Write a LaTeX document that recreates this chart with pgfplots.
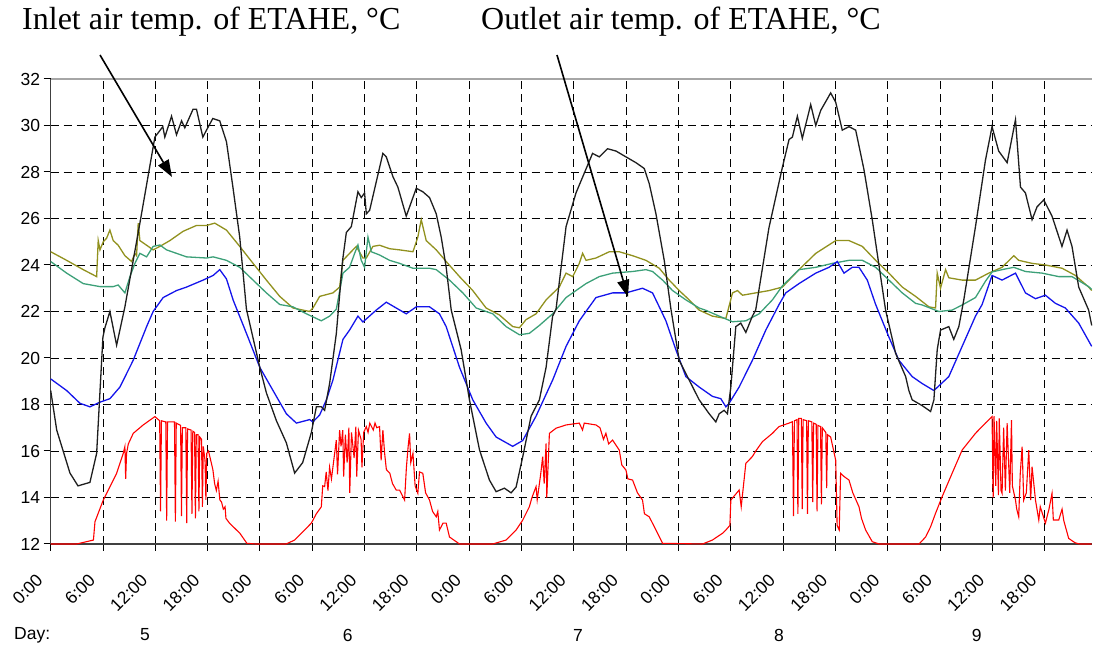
\documentclass[border=0pt]{standalone}
\usepackage{pgfplots}
\pgfplotsset{compat=1.18}
\usepackage{fontspec}
\setmainfont{Liberation Sans}
\newfontfamily\timesfont{Liberation Serif}
\usetikzlibrary{arrows.meta}
\definecolor{cblack}{RGB}{30,30,30}
\definecolor{colive}{RGB}{145,145,30}
\definecolor{cteal}{RGB}{60,160,120}
\definecolor{cblue}{RGB}{20,20,235}
\definecolor{cred}{RGB}{255,0,0}
\begin{document}
\begin{tikzpicture}
\useasboundingbox (0,0) rectangle (1093pt,647pt);
\begin{axis}[
  at={(50.7pt,103pt)}, anchor=south west,
  scale only axis, width=1041pt, height=465pt,
  xmin=0, xmax=119.4, ymin=12, ymax=32,
  axis x line*=bottom, axis y line*=left,
  axis line style={draw=black!75, line width=1.3pt},
  xtick={0,6,...,114},
  xticklabels={0:00,6:00,12:00,18:00,0:00,6:00,12:00,18:00,0:00,6:00,12:00,18:00,0:00,6:00,12:00,18:00,0:00,6:00,12:00,18:00},
  ytick={12,14,...,30},
  extra y ticks={32}, extra y tick labels={32},
  extra y tick style={major grid style={solid, draw=black!35, line width=1.3pt}},
  grid=major,
  major grid style={dash pattern=on 8pt off 5pt, draw=black, line width=0.9pt},
  tick align=outside, major tick length=7pt,
  tick style={draw=black, line width=1pt},
  /pgf/number format/assume math mode=true,
  tick label style={font=\fontsize{17.5}{20}\selectfont},
  xticklabel style={rotate=45, anchor=east, xshift=-23pt, yshift=-10.8pt},
  clip=false,
  every axis plot/.append style={line width=1.3pt},
]
% red (solar radiation, scaled)
\addplot[cred, line width=1.1pt] coordinates {
(0,12)(2.98,12)(4.9,12.17)(5.08,12.96)(6.04,13.9)(7.56,15.04)(7.94,15.47)(8.32,15.9)(8.51,16.19)(8.6,14.8)(8.7,15.9)(8.9,16.3)(9.47,16.76)(10.61,17.12)(11.95,17.48)
(12.5,17.3)(12.6,13.4)(12.7,17.3)(13.2,17.25)(13.3,13.0)(13.4,17.25)(14.2,17.25)(14.3,12.96)(14.4,17.2)(14.9,17.1)(15.0,13.2)(15.1,17.0)(15.5,17.0)(15.6,12.9)(15.7,16.95)
(16.1,16.9)(16.2,13.3)(16.3,16.85)(16.5,16.8)(16.6,13.1)(16.7,16.7)(16.9,16.7)(17.0,13.4)(17.1,16.6)(17.3,16.5)(17.4,13.6)(17.5,16.2)(17.7,15.6)(17.8,13.9)(17.9,15.9)(18.1,16.0)
(18.25,15.76)(18.6,15.2)(18.8,14.6)(19.0,14.3)(19.2,14.7)(19.4,13.9)(19.6,13.8)(19.8,13.5)(20.0,13.6)(20.1,13.1)(20.5,12.9)(21.7,12.46)(22.5,12.03)(23.5,12)
(27.0,12)(27.98,12.17)(29.12,12.6)(29.9,12.9)(30.47,13.3)(31.04,13.6)(31.2,14.5)(31.42,14.47)(31.6,15.1)(31.8,14.3)(31.99,15.3)(32.2,14.8)(32.76,16.47)(32.9,15.0)(33.14,16.9)
(33.3,16.2)(33.5,16.9)(33.6,14.9)(33.8,16.7)(34.0,15.5)(34.2,17.0)(34.3,14.2)(34.5,16.8)(34.8,15.7)(35.0,17.05)(35.1,14.9)(35.3,16.9)(35.6,16.5)(35.7,15.3)(35.9,16.8)
(36.2,17.05)(36.4,16.8)(36.6,17.2)(37.0,16.9)(37.2,17.2)(37.4,17.0)(37.72,17.05)(37.9,15.6)(38.1,16.9)(38.3,15.9)(38.5,15.2)(38.9,15.04)(39.2,14.6)(39.63,14.32)
(40.02,14.32)(40.59,13.89)(40.8,15.3)(41.0,16.2)(41.16,16.76)(41.3,15.5)(41.55,15.9)(41.8,14.5)(42.11,14.18)(42.3,15.1)(42.68,15.04)(43.0,14.2)(43.45,13.89)(43.8,13.4)
(44.22,13.17)(44.4,13.4)(44.59,12.6)(45.0,12.9)(45.36,12.9)(45.74,12.3)(46.89,12)
(50.7,12)(52.23,12.17)(53.38,12.6)(54.14,13.03)(54.5,13.3)(54.9,13.6)(55.2,14.0)(55.67,14.47)(55.8,13.9)(56.2,15.0)(56.43,15.76)(56.6,14.6)(56.82,16.33)(56.9,14.0)
(57.2,16.76)(57.96,16.98)(59.11,17.12)(60.63,17.2)(61.0,16.9)(61.2,17.2)(62.54,17.12)(63.0,17.0)(63.4,16.5)(63.68,16.76)(64.0,16.3)(64.45,16.47)(65.21,16.04)(65.5,15.4)
(65.98,15.18)(66.2,14.8)(66.74,14.75)(67.3,14.2)(67.88,13.89)(68.1,13.3)(68.65,13.17)(69.42,12.6)(70.18,12.03)(74.77,12)
(75.9,12.17)(77.05,12.46)(77.44,12.6)(77.9,12.8)(78.01,13.89)(78.96,14.32)(79.2,13.6)(79.73,15.47)(80.48,15.76)(80.87,16.0)(81.63,16.4)(82.78,16.76)(83.54,17.05)(84.69,17.2)
(85.07,17.26)(85.2,13.2)(85.3,17.3)(85.6,17.35)(85.7,13.3)(85.8,17.4)(86.1,17.4)(86.2,13.5)(86.3,17.35)(86.7,17.3)(86.8,13.3)(86.9,17.3)(87.3,17.25)(87.4,13.8)(87.5,17.2)
(87.8,17.15)(87.9,13.4)(88.0,17.1)(88.3,17.05)(88.4,13.7)(88.5,17.0)(88.9,16.8)(89.0,14.4)(89.1,16.7)(89.46,16.6)(90.04,15.6)(90.2,12.8)(90.44,12.6)(90.6,15.04)(91.0,14.9)
(91.56,14.75)(92.0,14.2)(92.71,13.6)(93.0,13.1)(93.47,12.6)(94.23,12.1)(95.0,12)
(99.6,12)(100.35,12.3)(100.92,12.74)(101.49,13.32)(102.25,14.04)(103.39,15.04)(104.54,16.04)(106.07,16.76)(107.21,17.2)(107.97,17.48)
(108.1,14.0)(108.2,17.5)(108.4,14.5)(108.5,17.3)(108.7,14.1)(108.8,17.4)(109.0,14.3)(109.12,14.18)(109.3,17.0)(109.5,14.3)(109.7,17.2)(110.0,14.2)(110.2,17.33)(110.3,14.5)
(110.66,13.89)(110.8,13.5)(111.03,13.17)(111.2,15.0)(111.42,16.19)(111.6,13.89)(111.9,14.2)(112.18,16.04)(112.4,13.89)(112.56,15.33)(112.95,13.89)(113.33,13.03)(113.5,13.6)
(114.09,12.9)(114.5,13.5)(114.85,14.18)(115.0,13.03)(115.62,13.03)(116.0,13.5)(116.2,13.0)(116.76,12.24)(117.5,12.05)(118.0,12)(119.4,12)
};
% olive
\addplot[colive] coordinates {
(0,24.57)(1.83,24.2)(3.73,23.8)(5.27,23.5)(5.45,25.05)(5.65,24.65)(6.03,25.0)(6.41,25.15)(6.79,25.5)(7.17,25.05)(7.74,24.85)(8.51,24.4)(9.28,24.15)(9.66,24.5)(9.85,24.4)
(10.04,25.8)(10.23,25.05)(11.0,24.85)(11.75,24.65)(12.52,24.8)(13.67,25.05)(15.19,25.45)(16.72,25.7)(17.87,25.7)(18.82,25.8)(20.16,25.5)(21.68,24.8)(23.21,24.07)
(24.74,23.35)(26.27,22.65)(27.79,22.15)(29.7,22.0)(30.08,22.15)(30.85,22.65)(32.37,22.8)(33.14,23.05)(33.52,24.2)(34.28,24.5)(35.05,24.8)(35.81,24.3)(36.2,24.3)
(36.96,24.8)(37.72,24.85)(38.87,24.7)(40.02,24.65)(41.55,24.57)(42.11,25.2)(42.5,25.95)(43.07,25.05)(44.22,24.65)(45.36,24.15)(46.89,23.5)(48.41,22.9)(49.94,22.15)
(51.47,21.85)(53.0,21.35)(53.76,21.3)(54.52,21.65)(55.67,21.9)(56.82,22.5)(58.33,23.05)(59.11,23.65)(59.87,23.5)(60.63,24.07)(61.01,24.5)(61.4,24.2)(62.54,24.3)
(64.07,24.57)(65.21,24.57)(66.74,24.4)(68.27,24.2)(69.8,23.86)(70.94,23.35)(72.09,22.9)(73.23,22.5)(74.38,22.06)(75.9,21.8)(77.44,21.7)(78.2,22.8)(78.77,22.9)
(79.34,22.7)(80.86,22.8)(82.4,22.9)(83.92,23.05)(85.83,23.8)(87.75,24.5)(90.04,25.05)(91.56,25.05)(93.09,24.8)(94.62,24.2)(96.14,23.65)(97.67,23.05)(99.2,22.65)
(100.73,22.2)(101.49,22.15)(101.68,23.65)(102.06,23.0)(102.64,23.8)(103.01,23.45)(104.54,23.35)(106.07,23.35)(107.59,23.65)(109.12,23.9)(110.46,24.4)(111.03,24.2)
(112.56,24.07)(114.09,24.0)(116.0,23.86)(117.53,23.55)(119.05,23.05)(119.4,22.9)
};
% teal
\addplot[cteal] coordinates {
(0,24.15)(1.83,23.65)(3.73,23.2)(5.65,23.07)(7.17,23.07)(7.74,23.14)(8.51,22.8)(9.09,23.5)(9.66,24.07)(10.23,24.5)(11.0,24.35)(11.75,24.8)(12.52,24.86)(13.29,24.65)
(15.58,24.35)(17.87,24.3)(18.63,24.35)(20.16,24.2)(21.68,23.9)(23.21,23.35)(24.74,22.8)(26.27,22.3)(27.79,22.2)(29.33,21.9)(31.04,21.6)(31.99,21.8)(32.76,22.1)
(33.52,23.65)(34.28,23.9)(34.86,24.5)(35.24,24.86)(35.62,24.2)(36.0,23.9)(36.39,25.2)(36.77,24.57)(37.72,24.43)(38.87,24.2)(40.02,24.07)(41.55,23.86)(43.45,23.86)
(44.22,23.8)(45.74,23.35)(47.27,22.8)(48.8,22.15)(50.7,21.9)(52.23,21.35)(53.76,21.0)(54.9,21.06)(56.05,21.4)(57.57,21.9)(59.11,22.6)(60.25,22.9)(61.4,23.2)
(62.92,23.5)(64.45,23.65)(66.74,23.72)(68.27,23.8)(69.03,23.72)(70.18,23.35)(71.33,22.9)(72.85,22.5)(74.38,22.15)(75.15,22.05)(76.67,21.8)(78.2,21.56)(79.73,21.6)
(81.25,21.9)(82.78,22.5)(83.92,23.1)(85.83,23.8)(87.75,23.9)(89.66,24.07)(91.56,24.2)(93.09,24.2)(94.62,23.9)(96.14,23.35)(97.67,22.8)(99.2,22.35)(99.96,22.28)
(101.87,22.0)(103.39,22.06)(104.54,22.28)(106.07,22.6)(107.21,23.3)(107.97,23.7)(109.12,23.8)(110.46,23.9)(111.8,23.72)(113.71,23.65)(115.62,23.5)(117.14,23.5)
(119.05,23.07)(119.4,22.95)
};
% blue (outlet)
\addplot[cblue] coordinates {
(0,19.1)(1.83,18.6)(3.36,18.05)(4.5,17.9)(5.65,18.1)(6.79,18.25)(7.94,18.75)(9.46,19.9)(11.0,21.35)(11.75,22.0)(12.9,22.6)(14.43,22.9)(15.58,23.05)(17.48,23.35)
(18.63,23.55)(19.39,23.8)(20.16,23.4)(20.92,22.5)(22.45,21.06)(23.98,19.6)(25.5,18.6)(27.03,17.6)(28.18,17.2)(29.7,17.35)(30.08,17.25)(30.85,17.55)(31.62,18.2)
(32.37,19.05)(33.52,20.8)(34.28,21.2)(35.24,21.8)(35.81,21.55)(37.34,22.06)(38.49,22.4)(39.63,22.15)(40.78,21.9)(41.93,22.2)(43.45,22.2)(44.59,21.9)(45.36,21.35)
(46.89,19.6)(48.41,18.2)(49.94,17.2)(51.09,16.6)(52.99,16.2)(54.14,16.45)(55.67,17.5)(57.57,19.05)(59.11,20.5)(60.63,21.6)(62.54,22.6)(64.45,22.8)(65.98,22.8)
(67.88,23.0)(69.03,22.8)(69.8,22.2)(70.56,21.6)(71.71,20.35)(72.85,19.2)(74.38,18.75)(75.9,18.35)(76.86,18.25)(77.44,17.9)(77.81,18.05)(78.96,18.75)(80.48,19.9)
(82.02,21.2)(83.54,22.3)(84.31,22.8)(85.83,23.2)(87.75,23.65)(89.27,23.9)(90.22,24.15)(90.99,23.65)(91.94,23.9)(92.71,23.9)(93.66,23.35)(94.62,22.3)(96.14,20.9)
(97.29,19.9)(98.81,19.2)(99.96,18.9)(101.3,18.6)(103.01,19.2)(104.54,20.5)(106.07,21.8)(106.83,22.3)(107.97,23.55)(109.12,23.35)(110.66,23.65)(111.8,22.8)
(112.95,22.55)(114.09,22.7)(115.24,22.35)(116.38,22.15)(117.91,21.5)(119.4,20.5)
};
% black (inlet)
\addplot[cblack] coordinates {
(0,18.6)(0.69,16.9)(2.21,15.05)(3.13,14.5)(4.5,14.65)(5.27,15.9)(5.99,20.9)(6.22,21.3)(6.79,22.0)(7.56,20.55)(8.51,22.2)(10.23,25.8)(11.95,29.5)(12.86,29.95)(13.09,29.5)
(13.86,30.4)(14.43,29.6)(15.01,30.2)(15.38,29.9)(16.33,30.7)(16.72,30.7)(17.45,29.5)(17.87,29.8)(18.59,30.3)(19.39,30.2)(20.16,29.3)(20.88,27.4)(21.68,25.2)(22.45,22.1)
(23.98,19.6)(24.74,18.5)(25.89,17.3)(27.03,16.35)(27.98,15.05)(28.9,15.5)(29.9,16.8)(30.47,17.9)(31.04,17.9)(31.42,17.75)(31.99,18.9)(32.76,21.05)(33.48,24.2)
(33.91,25.4)(34.48,25.65)(35.24,27.15)(35.62,26.9)(36.0,27.1)(36.2,26.2)(36.58,26.35)(38.1,28.8)(38.49,28.65)(39.25,27.8)(39.82,27.35)(40.78,26.1)(41.93,27.3)
(42.68,27.15)(43.45,26.9)(44.22,26.2)(44.79,25.2)(45.36,23.9)(45.94,22.06)(47.08,20.35)(48.03,18.2)(49.18,16.05)(50.32,14.75)(51.09,14.25)(52.04,14.4)(52.81,14.2)
(53.38,14.45)(54.14,15.75)(55.1,17.5)(56.05,18.2)(56.82,19.6)(57.57,21.8)(57.96,22.1)(59.11,25.65)(60.25,27.1)(62.15,28.8)(62.92,28.65)(63.87,29.0)(64.84,28.9)
(65.98,28.65)(67.13,28.4)(68.08,28.15)(68.65,27.5)(69.42,26.2)(70.37,24.2)(71.14,22.1)(72.09,19.9)(73.23,19.05)(74.38,18.2)(75.53,17.6)(76.29,17.25)(76.67,17.6)
(77.24,17.75)(77.62,17.6)(78.01,18.75)(78.58,21.35)(79.15,21.5)(79.73,21.1)(80.48,21.8)(80.86,22.06)(82.38,25.6)(83.92,28.2)(84.69,29.4)(85.07,29.5)(85.64,30.4)
(86.21,29.45)(87.17,30.9)(87.75,30.0)(88.32,30.65)(89.46,31.4)(90.04,31.0)(90.79,29.8)(91.56,29.95)(92.33,29.8)(93.28,28.1)(94.23,25.95)(95.19,23.5)(95.76,22.06)
(96.91,20.2)(98.06,19.2)(98.43,18.6)(98.81,18.2)(99.96,17.95)(100.92,17.7)(101.3,18.2)(101.68,20.35)(102.06,21.2)(103.01,21.35)(103.58,20.8)(104.16,21.35)(104.73,22.5)
(106.07,25.65)(107.21,28.5)(107.97,29.95)(108.73,28.9)(109.7,28.4)(110.66,30.25)(111.23,27.35)(111.8,27.1)(112.56,25.95)(113.13,26.5)(113.9,26.8)(114.85,26.1)
(115.99,24.8)(116.57,25.5)(117.14,24.8)(117.91,23.05)(119.05,22.06)(119.4,21.4)
};
\end{axis}
% annotations
\node[anchor=west, inner sep=0pt, font=\timesfont\fontsize{32}{35}\selectfont] at (22pt,625pt) {Inlet air temp. of ETAHE, °C};
\node[anchor=west, inner sep=0pt, font=\timesfont\fontsize{32}{35}\selectfont] at (481pt,625pt) {Outlet air temp. of ETAHE, °C};
\draw[line width=1.6pt, -{Triangle[length=17pt,width=12pt]}] (100pt,592pt) -- (172pt,470pt);
\draw[line width=1.6pt, -{Triangle[length=17pt,width=12pt]}] (557pt,592pt) -- (628pt,350pt);
% day row
\begin{scope}[every node/.style={font=\fontsize{17.5}{20}\selectfont, inner sep=0pt}]
\node[anchor=west] at (14pt,12pt) {Day:};
\node at (145pt,12pt) {5};
\node at (347.7pt,12pt) {6};
\node at (578pt,12pt) {7};
\node at (779pt,12pt) {8};
\node at (976.7pt,12pt) {9};
\end{scope}
\end{tikzpicture}
\end{document}
